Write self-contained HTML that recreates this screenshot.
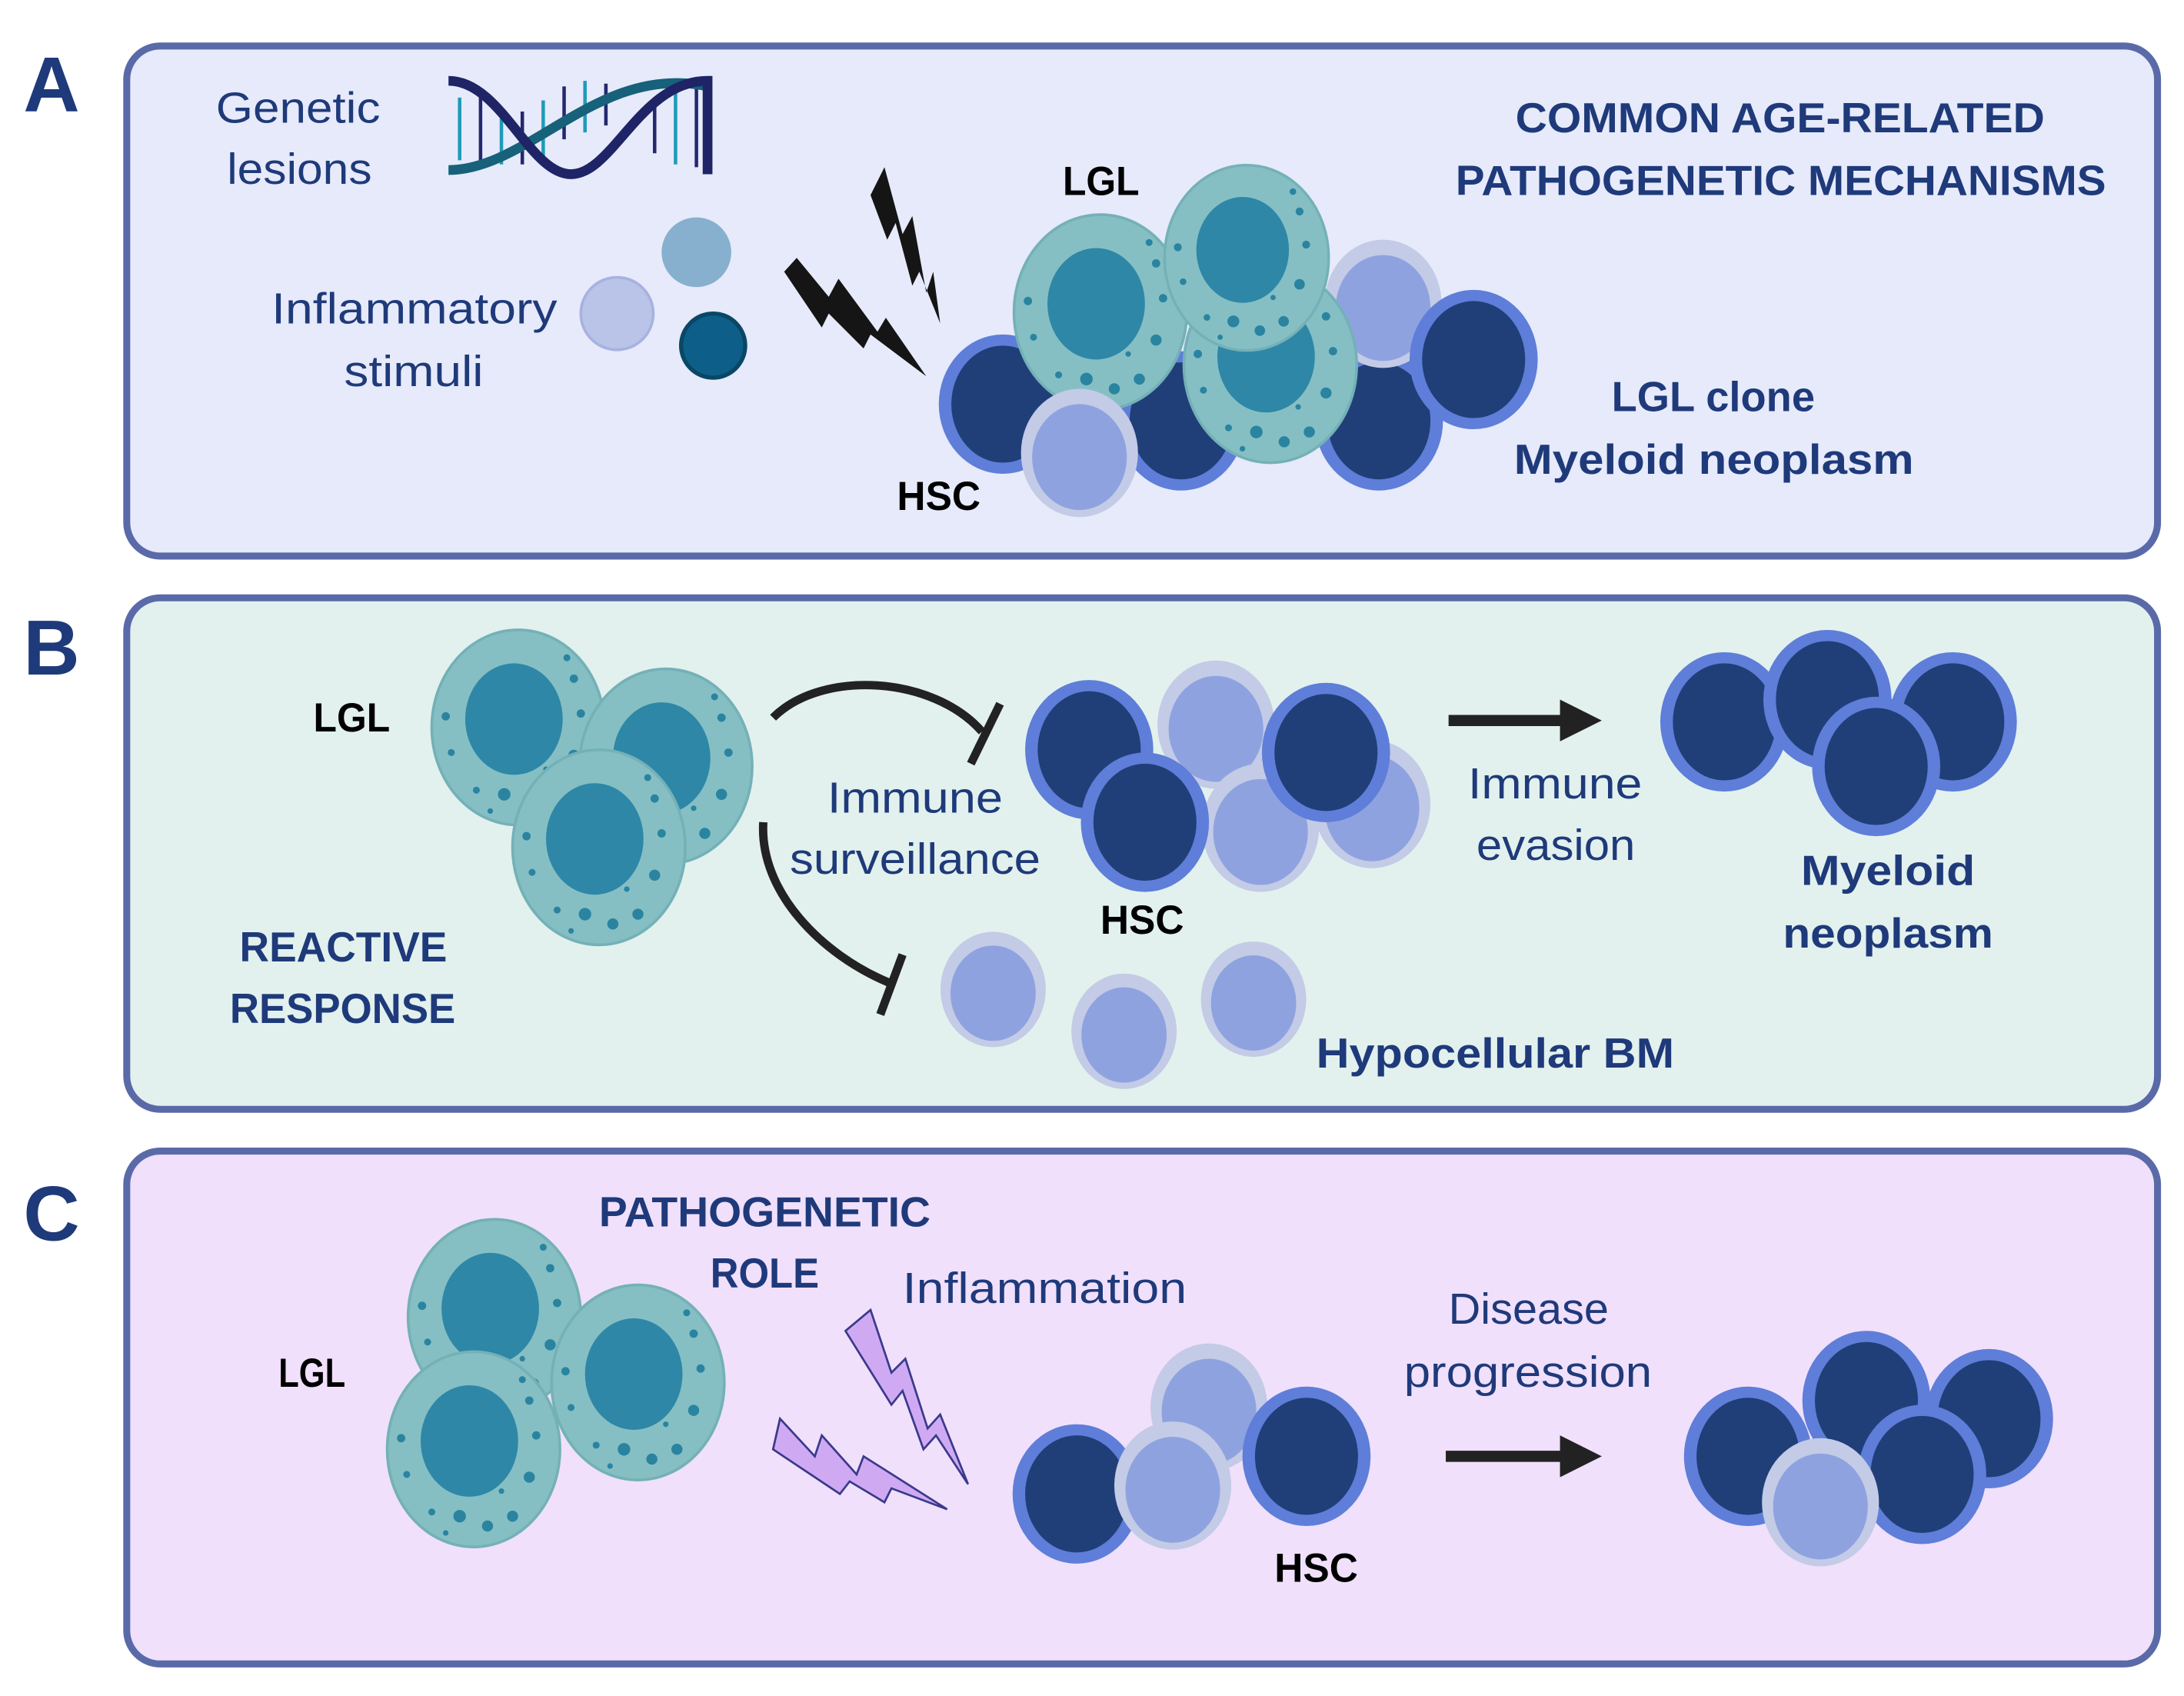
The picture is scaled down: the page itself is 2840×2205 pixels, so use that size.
<!DOCTYPE html>
<html><head><meta charset="utf-8"><style>
html,body{margin:0;padding:0;background:#fff;}
svg{display:block;}
text{font-family:"Liberation Sans",sans-serif;}
.t{fill:#1f3a7a;font-size:31px;}
.b{fill:#1f3a7a;font-size:30px;font-weight:bold;}
.k{fill:#000;font-size:29px;font-weight:bold;}
.L{fill:#1f3a7a;font-size:56px;font-weight:bold;}
</style></head><body>
<svg width="2840" height="2205" viewBox="0 0 1568 1217" preserveAspectRatio="none" xmlns="http://www.w3.org/2000/svg">
<defs>
<g id="d"><ellipse rx="46" ry="50" fill="#5e7ed9"/><ellipse rx="37" ry="42" fill="#203f78"/></g>
<g id="l"><ellipse rx="42" ry="46" fill="#c3cbe6"/><ellipse rx="34" ry="38" cy="3" fill="#8fa2e0"/></g>
<g id="g"><ellipse rx="62" ry="70" fill="#85bfc4" stroke="#74b1b7" stroke-width="2"/>
<ellipse cx="-3" cy="-6" rx="35" ry="40" fill="#2e87a6"/>
<g fill="#2a84a0"><circle cx="-52" cy="-8" r="3"/><circle cx="-48" cy="18" r="2.5"/><circle cx="-10" cy="48" r="4.5"/><circle cx="10" cy="55" r="4"/><circle cx="28" cy="48" r="4"/><circle cx="40" cy="20" r="4"/><circle cx="45" cy="-10" r="3"/><circle cx="40" cy="-35" r="3"/><circle cx="-30" cy="45" r="2.5"/><circle cx="20" cy="30" r="2"/><circle cx="-20" cy="60" r="2"/><circle cx="35" cy="-50" r="2.5"/></g></g>
</defs>
<rect x="91" y="33" width="1458" height="366" rx="24" fill="#e6eafa" stroke="#5a6aa8" stroke-width="5"/>
<rect x="91" y="429" width="1458" height="367" rx="24" fill="#e2f1ee" stroke="#5a6aa8" stroke-width="5"/>
<rect x="91" y="826" width="1458" height="368" rx="24" fill="#f1e0fb" stroke="#5a6aa8" stroke-width="5"/>
<text class="L" x="37" y="80" text-anchor="middle">A</text>
<text class="L" x="37" y="484" text-anchor="middle">B</text>
<text class="L" x="37" y="890" text-anchor="middle">C</text>

<!-- Panel A -->
<text class="t" x="155" y="88" textLength="118" lengthAdjust="spacingAndGlyphs">Genetic</text>
<text class="t" x="163" y="132" textLength="104" lengthAdjust="spacingAndGlyphs">lesions</text>
<text class="t" x="195" y="232" textLength="205" lengthAdjust="spacingAndGlyphs">Inflammatory</text>
<text class="t" x="247" y="277" textLength="100" lengthAdjust="spacingAndGlyphs">stimuli</text>
<g stroke-width="2.5">
<line x1="330" y1="70" x2="330" y2="115" stroke="#1e9bb8"/><line x1="345" y1="70" x2="345" y2="115" stroke="#24286e"/>
<line x1="360" y1="85" x2="360" y2="118" stroke="#1e9bb8"/><line x1="375" y1="80" x2="375" y2="118" stroke="#24286e"/>
<line x1="390" y1="72" x2="390" y2="112" stroke="#1e9bb8"/><line x1="405" y1="62" x2="405" y2="100" stroke="#24286e"/>
<line x1="420" y1="58" x2="420" y2="95" stroke="#1e9bb8"/><line x1="435" y1="60" x2="435" y2="90" stroke="#24286e"/>
<line x1="470" y1="70" x2="470" y2="110" stroke="#24286e"/><line x1="485" y1="62" x2="485" y2="118" stroke="#1e9bb8"/><line x1="500" y1="60" x2="500" y2="120" stroke="#24286e"/>
</g>
<path d="M322,122 C380,122 430,45 508,62" fill="none" stroke="#17617a" stroke-width="7"/>
<path d="M322,58 C360,58 380,125 410,125 C440,125 460,58 508,58 L508,125" fill="none" stroke="#1e2466" stroke-width="7"/>
<circle cx="443" cy="225" r="26" fill="#bac4e8" stroke="#a7b2e0" stroke-width="2"/>
<circle cx="500" cy="181" r="25" fill="#86b0cd"/>
<circle cx="512" cy="248" r="23" fill="#0d5f8a" stroke="#0a4765" stroke-width="3"/>
<polygon points="625,140 635,120 648,168 655,155 665,210 670,195 675,232 660,195 655,205 643,160 637,172" fill="#151515"/>
<polygon points="563,195 572,185 595,213 602,200 630,238 636,228 665,270 625,240 620,250 595,225 590,235" fill="#151515"/>
<use href="#d" x="720" y="290"/>
<use href="#d" x="848" y="302"/>
<use href="#d" x="990" y="302"/>
<use href="#l" x="993" y="218"/>
<use href="#d" x="1058" y="258"/>
<use href="#g" x="790" y="224"/>
<use href="#g" x="912" y="262"/>
<use href="#g" x="895" y="185" transform="translate(44.75,9.25) scale(0.95)"/>
<use href="#l" x="775" y="325"/>
<text class="k" x="763" y="140" textLength="55" lengthAdjust="spacingAndGlyphs">LGL</text>
<text class="k" x="644" y="366" textLength="60" lengthAdjust="spacingAndGlyphs">HSC</text>
<text class="b" x="1088" y="95" textLength="380" lengthAdjust="spacingAndGlyphs">COMMON AGE-RELATED</text>
<text class="b" x="1045" y="140" textLength="467" lengthAdjust="spacingAndGlyphs">PATHOGENETIC MECHANISMS</text>
<text class="b" x="1157" y="295" textLength="146" lengthAdjust="spacingAndGlyphs">LGL clone</text>
<text class="b" x="1087" y="340" textLength="287" lengthAdjust="spacingAndGlyphs">Myeloid neoplasm</text>

<!-- Panel B -->
<use href="#g" x="372" y="522"/>
<use href="#g" x="478" y="550"/>
<use href="#g" x="430" y="608"/>
<text class="k" x="225" y="525" textLength="55" lengthAdjust="spacingAndGlyphs">LGL</text>
<text class="b" x="172" y="690" textLength="149" lengthAdjust="spacingAndGlyphs">REACTIVE</text>
<text class="b" x="165" y="734" textLength="162" lengthAdjust="spacingAndGlyphs">RESPONSE</text>
<path d="M555,515 C590,480 670,485 705,525" fill="none" stroke="#222" stroke-width="6"/>
<line x1="718" y1="505" x2="697" y2="548" stroke="#222" stroke-width="6"/>
<path d="M548,590 C545,640 590,685 638,705" fill="none" stroke="#222" stroke-width="6"/>
<line x1="648" y1="685" x2="632" y2="728" stroke="#222" stroke-width="6"/>
<text class="t" x="594" y="583" textLength="126" lengthAdjust="spacingAndGlyphs">Immune</text>
<text class="t" x="567" y="627" textLength="180" lengthAdjust="spacingAndGlyphs">surveillance</text>
<use href="#l" x="873" y="520"/>
<use href="#l" x="985" y="577"/>
<use href="#d" x="782" y="538"/>
<use href="#l" x="905" y="594"/>
<use href="#d" x="952" y="540"/>
<use href="#d" x="822" y="590"/>
<text class="k" x="790" y="670" textLength="60" lengthAdjust="spacingAndGlyphs">HSC</text>
<use href="#l" x="713" y="710" transform="translate(71.3,71) scale(0.9)"/>
<use href="#l" x="807" y="740" transform="translate(80.7,74) scale(0.9)"/>
<use href="#l" x="900" y="717" transform="translate(90,71.7) scale(0.9)"/>
<text class="b" x="945" y="766" textLength="257" lengthAdjust="spacingAndGlyphs">Hypocellular BM</text>
<line x1="1040" y1="517" x2="1125" y2="517" stroke="#222" stroke-width="8"/>
<polygon points="1120,502 1150,517 1120,532" fill="#222"/>
<text class="t" x="1054" y="573" textLength="125" lengthAdjust="spacingAndGlyphs">Immune</text>
<text class="t" x="1060" y="617" textLength="114" lengthAdjust="spacingAndGlyphs">evasion</text>
<use href="#d" x="1238" y="518"/>
<use href="#d" x="1312" y="502"/>
<use href="#d" x="1402" y="518"/>
<use href="#d" x="1347" y="550"/>
<text class="b" x="1293" y="635" textLength="125" lengthAdjust="spacingAndGlyphs">Myeloid</text>
<text class="b" x="1280" y="680" textLength="151" lengthAdjust="spacingAndGlyphs">neoplasm</text>

<!-- Panel C -->
<use href="#g" x="355" y="945"/>
<use href="#g" x="458" y="992"/>
<use href="#g" x="340" y="1040"/>
<text class="k" x="200" y="995" textLength="48" lengthAdjust="spacingAndGlyphs">LGL</text>
<text class="b" x="430" y="880" textLength="238" lengthAdjust="spacingAndGlyphs">PATHOGENETIC</text>
<text class="b" x="510" y="924" textLength="78" lengthAdjust="spacingAndGlyphs">ROLE</text>
<text class="t" x="648" y="935" textLength="204" lengthAdjust="spacingAndGlyphs">Inflammation</text>
<polygon points="607,955 625,940 640,985 650,975 666,1025 675,1015 695,1065 672,1030 663,1040 648,998 640,1008" fill="#cfaaf2" stroke="#3a3a8c" stroke-width="1.5"/>
<polygon points="555,1040 560,1018 585,1045 590,1030 615,1058 620,1045 680,1083 640,1068 635,1078 610,1063 603,1072" fill="#cfaaf2" stroke="#3a3a8c" stroke-width="1.5"/>
<use href="#l" x="868" y="1010"/>
<use href="#d" x="938" y="1045"/>
<use href="#d" x="773" y="1072"/>
<use href="#l" x="842" y="1066"/>
<text class="k" x="915" y="1135" textLength="60" lengthAdjust="spacingAndGlyphs">HSC</text>
<text class="t" x="1040" y="950" textLength="115" lengthAdjust="spacingAndGlyphs">Disease</text>
<text class="t" x="1008" y="995" textLength="178" lengthAdjust="spacingAndGlyphs">progression</text>
<line x1="1038" y1="1045" x2="1125" y2="1045" stroke="#222" stroke-width="8"/>
<polygon points="1120,1030 1150,1045 1120,1060" fill="#222"/>
<use href="#d" x="1255" y="1045"/>
<use href="#d" x="1340" y="1005"/>
<use href="#d" x="1428" y="1018"/>
<use href="#d" x="1380" y="1058"/>
<use href="#l" x="1307" y="1078"/>
</svg>
</body></html>
